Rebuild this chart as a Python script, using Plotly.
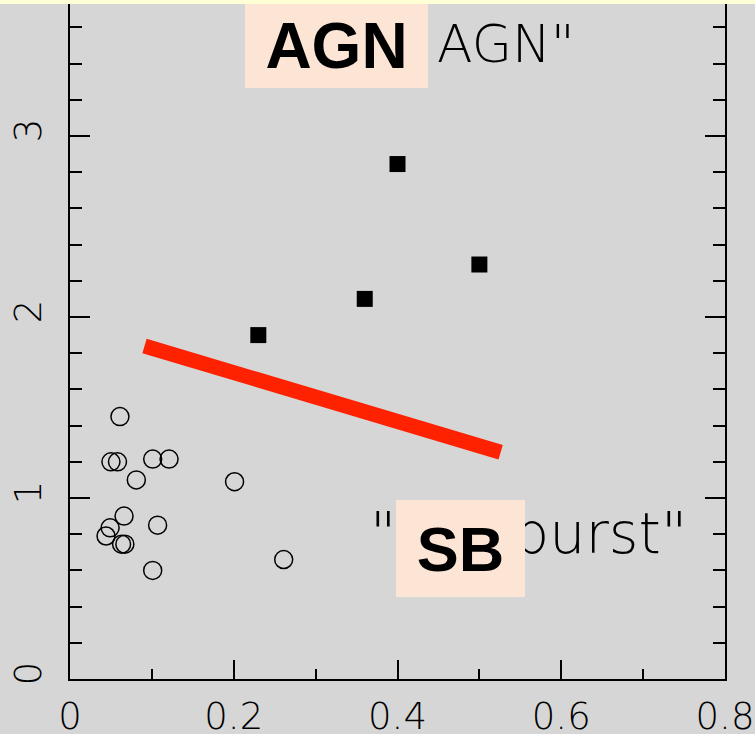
import plotly.graph_objects as go

# ---- data ----
sb_x = [0.061, 0.050, 0.058, 0.101, 0.121, 0.081, 0.201, 0.066, 0.049, 0.044, 0.107, 0.063, 0.067, 0.101, 0.261]
sb_y = [1.45, 1.20, 1.20, 1.215, 1.215, 1.10, 1.09, 0.90, 0.835, 0.79, 0.85, 0.745, 0.745, 0.60, 0.66]

agn_x = [0.23, 0.36, 0.40, 0.50]
agn_y = [1.90, 2.10, 2.845, 2.29]

div_x = [0.091, 0.526]
div_y = [1.84, 1.253]

x_ticks = [0, 0.2, 0.4, 0.6, 0.8]
x_ticktext = ["0", "0.2", "0.4", "0.6", "0.8"]
y_ticks = [0, 1, 2, 3]
y_ticktext = ["0", "1", "2", "3"]

# ---- style ----
BG = "#d6d6d6"
YELLOW = "#ffffd6"
PEACH = "#fde5d6"
RED = "#ff2200"
W, H = 755, 734
L, R, T, B = 70, 30, 0, 55
PLOT_H = H - T - B
PX_PER_Y = 181.0
Y_TOP = PLOT_H / PX_PER_Y

thin_font = dict(family="DejaVu Sans", color="black", weight=200)

fig = go.Figure()
fig.add_trace(go.Scatter(x=div_x, y=div_y, mode="lines",
                         line=dict(color=RED, width=15), showlegend=False, hoverinfo="skip"))
fig.add_trace(go.Scatter(x=sb_x, y=sb_y, mode="markers",
                         marker=dict(symbol="circle-open", size=18, color="black", line=dict(width=1.5)),
                         showlegend=False))
fig.add_trace(go.Scatter(x=agn_x, y=agn_y, mode="markers",
                         marker=dict(symbol="square", size=16, color="black"),
                         showlegend=False))

axis_common = dict(showgrid=False, zeroline=False, showline=True, linecolor="black", linewidth=2,
                   ticks="inside", tickwidth=2, tickcolor="black", automargin=False)

fig.update_layout(
    width=W, height=H,
    margin=dict(l=L, r=R, t=T, b=B, pad=0, autoexpand=False),
    paper_bgcolor=BG, plot_bgcolor=BG,
    xaxis=dict(range=[0, 0.8], tickvals=x_ticks, ticktext=x_ticktext, ticklen=19,
               tickfont=dict(size=37, **thin_font), mirror=False, ticklabelstandoff=4,
               minor=dict(ticks="inside", ticklen=10, tickwidth=2, tickcolor="black", dtick=0.1, tick0=0, showgrid=False),
               **axis_common),
    xaxis2=dict(range=[0, 0.8], overlaying="x", side="top", tickvals=x_ticks, ticks="inside",
                ticklen=12, tickwidth=2, tickcolor="black", showticklabels=False, showline=False,
                showgrid=False, zeroline=False, automargin=False),
    yaxis=dict(range=[0, Y_TOP], tickvals=y_ticks, ticktext=y_ticktext, ticklen=20, tickangle=-90,
               tickfont=dict(size=37, **thin_font), mirror="ticks", ticklabelstandoff=12,
               minor=dict(ticks="inside", ticklen=12, tickwidth=2, tickcolor="black", dtick=0.2, tick0=0, showgrid=False),
               **axis_common),
    shapes=[dict(type="rect", xref="paper", yref="paper", x0=-0.2, x1=1.2,
                 y0=1 - 4 / PLOT_H, y1=1.0, fillcolor=YELLOW, line=dict(width=0), layer="above")],
)

fig.add_annotation(text='AGN"', xref="x", yref="y", x=0.446, y=3.51, xanchor="left", yanchor="middle",
                   showarrow=False, font=dict(size=52, **thin_font))
fig.add_annotation(text='"Starburst"', xref="x", yref="y", x=0.364, y=0.807, xanchor="left", yanchor="middle",
                   showarrow=False, font=dict(size=57, **thin_font))
fig.add_annotation(text="<b>AGN</b>", xref="x", yref="y", x=0.3255, y=3.497, xanchor="center", yanchor="middle",
                   width=183, height=84, bgcolor=PEACH, borderpad=0, borderwidth=0, showarrow=False,
                   font=dict(family="Liberation Sans", size=64, color="black"))
fig.add_annotation(text="<b>SB</b>", xref="x", yref="y", x=0.477, y=0.721, xanchor="center", yanchor="middle",
                   width=129, height=97, bgcolor=PEACH, borderpad=0, borderwidth=0, showarrow=False,
                   font=dict(family="Liberation Sans", size=63, color="black"))

fig.write_html("out.html", config={"displayModeBar": False},
               post_script="document.body.style.margin='0';")
